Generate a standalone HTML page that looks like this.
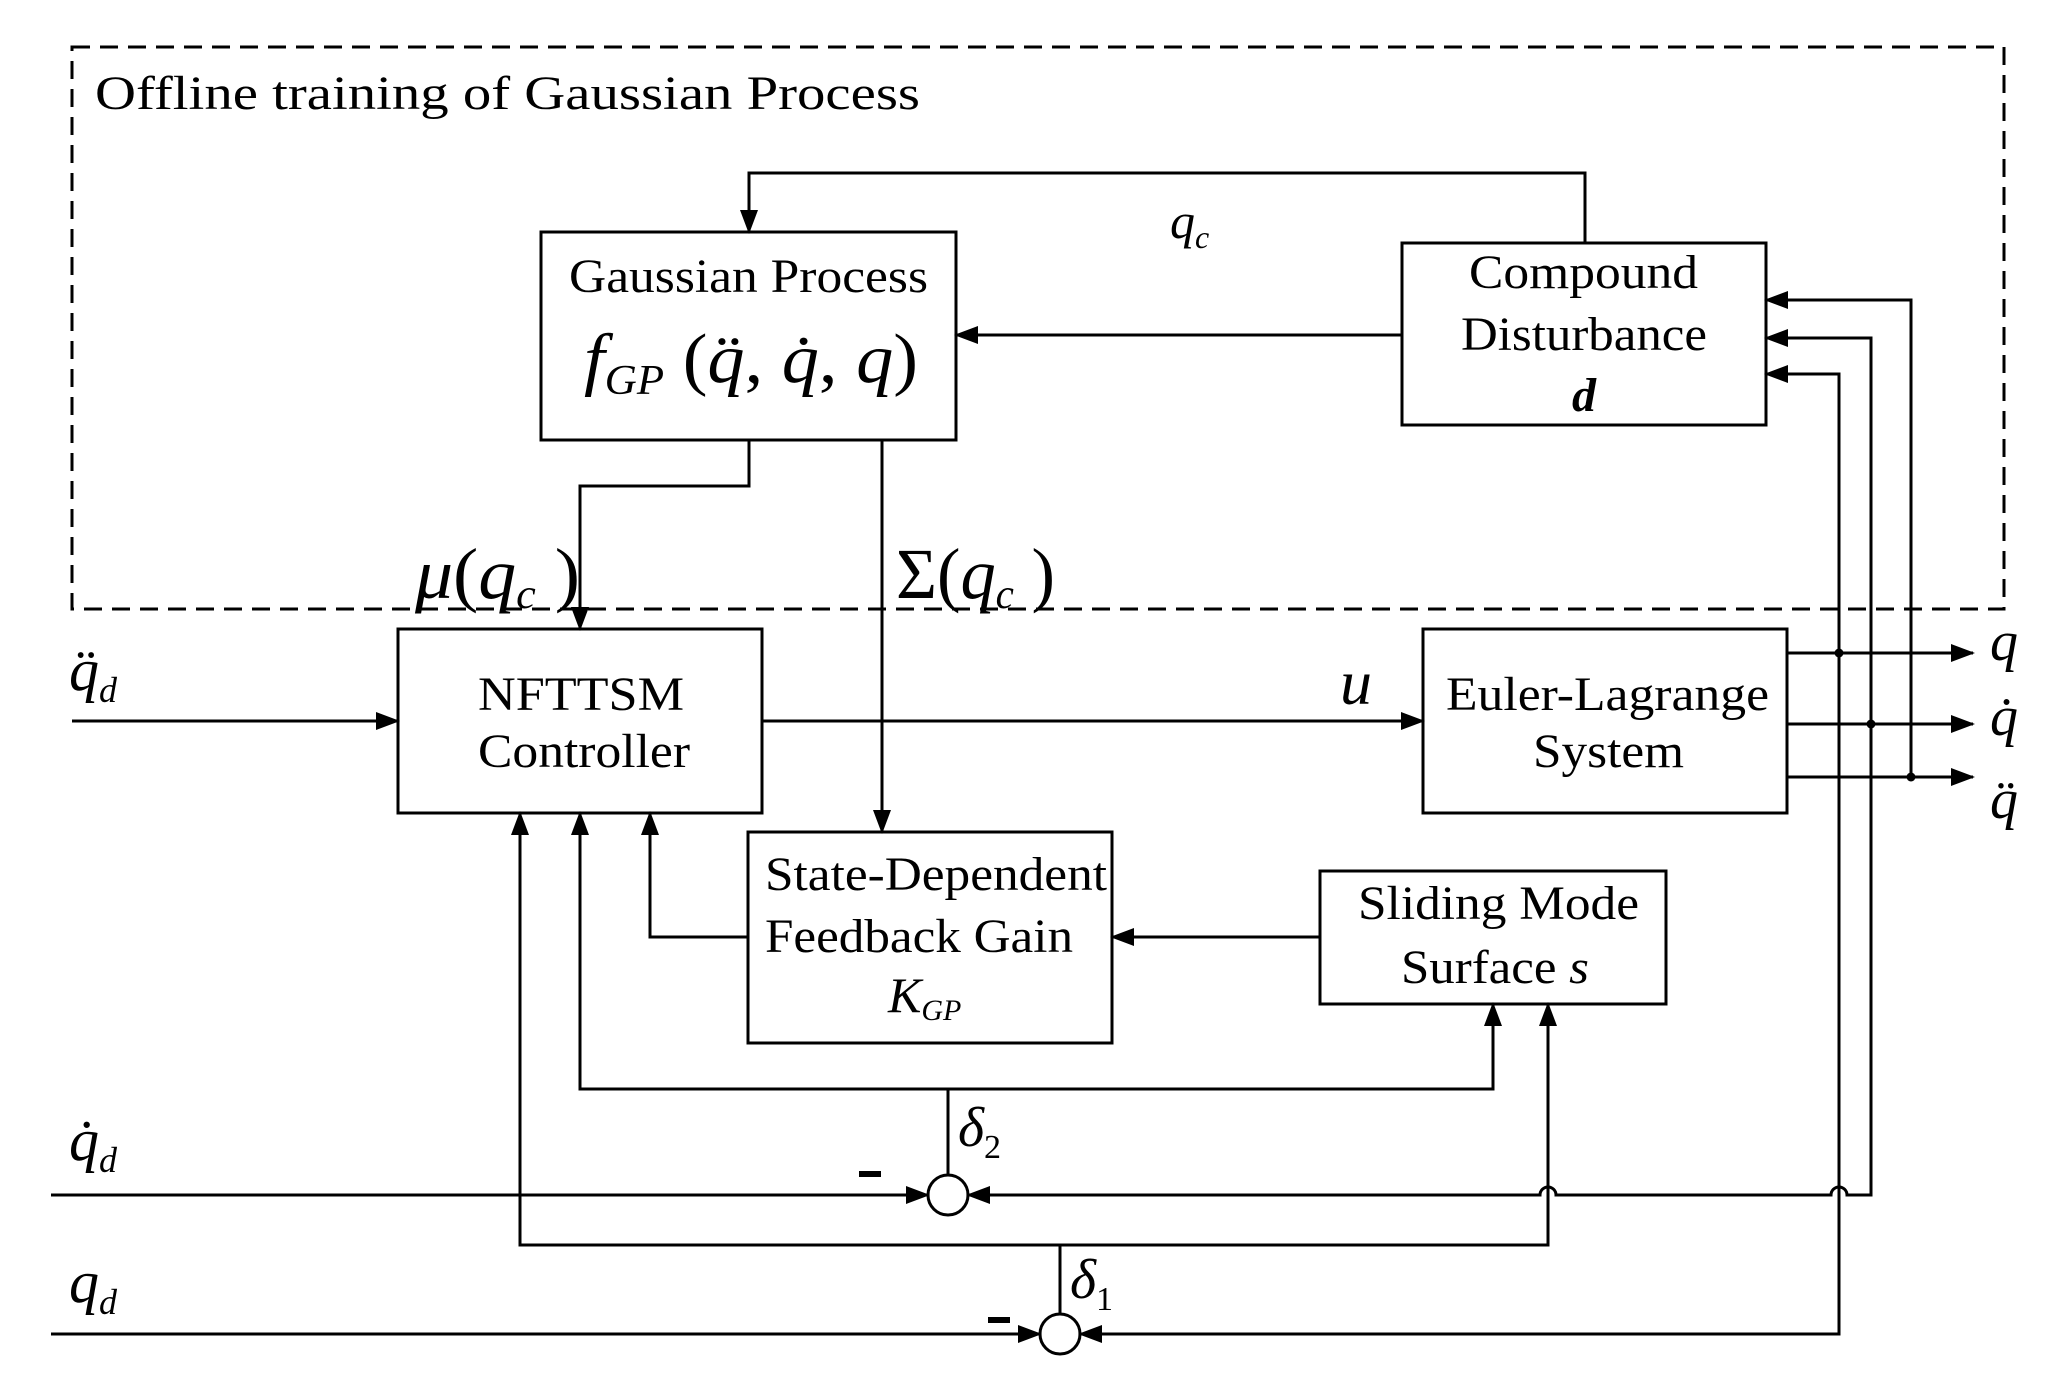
<!DOCTYPE html>
<html><head><meta charset="utf-8"><style>
html,body{margin:0;padding:0;background:#fff}
svg{display:block}
text{font-family:"Liberation Serif",serif;fill:#000}
</style></head><body>
<svg width="2065" height="1392" viewBox="0 0 2065 1392" xmlns="http://www.w3.org/2000/svg">
<defs>
<marker id="a" markerWidth="24" markerHeight="18" refX="22" refY="9" orient="auto" markerUnits="userSpaceOnUse">
<path d="M0,0 L24,9 L0,18 z" fill="#000"/></marker>
</defs>
<g fill="none" stroke="#000" stroke-width="3">
<rect x="72" y="47" width="1932" height="562" stroke-dasharray="18,10"/>
<rect x="541" y="232" width="415" height="208"/>
<rect x="1402" y="243" width="364" height="182"/>
<rect x="398" y="629" width="364" height="184"/>
<rect x="1423" y="629" width="364" height="184"/>
<rect x="748" y="832" width="364" height="211"/>
<rect x="1320" y="871" width="346" height="133"/>
<circle cx="948" cy="1195" r="20"/>
<circle cx="1060" cy="1334" r="20"/>
</g>
<g fill="none" stroke="#000" stroke-width="3" marker-end="url(#a)">
<path d="M1585,243 V173 H749 V232"/>
<path d="M1402,335 H956"/>
<path d="M749,440 V486 H580 V629"/>
<path d="M882,440 V832"/>
<path d="M72,721 H398"/>
<path d="M762,721 H1423"/>
<path d="M1787,653 H1973"/>
<path d="M1787,724 H1973"/>
<path d="M1787,777 H1973"/>
<path d="M1839,653 V374 H1766"/>
<path d="M1871,724 V338 H1766"/>
<path d="M1911,777 V300 H1766"/>
<path d="M1320,937 H1112"/>
<path d="M748,937 H650 V813"/>
<path d="M948,1175 V1089 H580 V813"/>
<path d="M948,1089 H1493 V1004"/>
<path d="M1060,1314 V1245 H520 V813"/>
<path d="M1060,1245 H1548 V1004"/>
<path d="M51,1195 H928"/>
<path d="M51,1334 H1040"/>
<path d="M1871,724 V1195 H1847 A8,8 0 0 0 1831,1195 H1556 A8,8 0 0 0 1540,1195 H968"/>
<path d="M1839,653 V1334 H1080"/>
</g>
<g fill="#000">
<circle cx="1839" cy="653" r="4.5"/>
<circle cx="1871" cy="724" r="4.5"/>
<circle cx="1911" cy="777" r="4.5"/>
<rect x="859" y="1171" width="22" height="6"/>
<rect x="988" y="1317" width="22" height="6"/>
</g>
<text x="95" y="109" font-size="48" textLength="825" lengthAdjust="spacingAndGlyphs">Offline training of Gaussian Process</text>
<text x="569" y="292" font-size="48" textLength="359" lengthAdjust="spacingAndGlyphs">Gaussian Process</text>
<text x="584" y="382" font-size="70" textLength="334" lengthAdjust="spacingAndGlyphs"><tspan font-style="italic">f</tspan><tspan font-style="italic" font-size="42" dy="12">GP</tspan><tspan dy="-12"> (</tspan><tspan font-style="italic">q̈</tspan>, <tspan font-style="italic">q̇</tspan>, <tspan font-style="italic">q</tspan>)</text>
<text x="1170" y="238" font-size="50" font-style="italic">q<tspan font-size="32" dy="10">c</tspan></text>
<text x="1469" y="288" font-size="48" textLength="229" lengthAdjust="spacingAndGlyphs">Compound</text>
<text x="1461" y="350" font-size="48" textLength="246" lengthAdjust="spacingAndGlyphs">Disturbance</text>
<text x="1584" y="411" font-size="48" text-anchor="middle" font-style="italic" font-weight="bold">d</text>
<text x="415" y="598" font-size="72" textLength="165" lengthAdjust="spacingAndGlyphs"><tspan font-style="italic">μ</tspan>(<tspan font-style="italic">q</tspan><tspan font-style="italic" font-size="42" dy="10">c</tspan><tspan dy="-10"> )</tspan></text>
<text x="896" y="598" font-size="72" textLength="159" lengthAdjust="spacingAndGlyphs">Σ(<tspan font-style="italic">q</tspan><tspan font-style="italic" font-size="42" dy="10">c</tspan><tspan dy="-10"> )</tspan></text>
<text x="478" y="710" font-size="48" textLength="206" lengthAdjust="spacingAndGlyphs">NFTTSM</text>
<text x="478" y="767" font-size="48" textLength="212" lengthAdjust="spacingAndGlyphs">Controller</text>
<text x="1446" y="710" font-size="48" textLength="323" lengthAdjust="spacingAndGlyphs">Euler-Lagrange</text>
<text x="1533" y="767" font-size="48" textLength="151" lengthAdjust="spacingAndGlyphs">System</text>
<text x="1340" y="704" font-size="64" font-style="italic">u</text>
<text x="1990" y="660" font-size="56" font-style="italic">q</text>
<text x="1990" y="735" font-size="56" font-style="italic">q̇</text>
<text x="1990" y="818" font-size="56" font-style="italic">q̈</text>
<text x="765" y="890" font-size="48" textLength="342" lengthAdjust="spacingAndGlyphs">State-Dependent</text>
<text x="765" y="952" font-size="48" textLength="308" lengthAdjust="spacingAndGlyphs">Feedback Gain</text>
<text x="888" y="1012" font-size="50" font-style="italic">K<tspan font-size="30" dy="8">GP</tspan></text>
<text x="1358" y="919" font-size="48" textLength="281" lengthAdjust="spacingAndGlyphs">Sliding Mode</text>
<text x="1401" y="983" font-size="48" textLength="188" lengthAdjust="spacingAndGlyphs">Surface <tspan font-style="italic">s</tspan></text>
<text x="69" y="690" font-size="60" font-style="italic">q̈<tspan font-size="36" dy="12">d</tspan></text>
<text x="69" y="1160" font-size="60" font-style="italic">q̇<tspan font-size="36" dy="12">d</tspan></text>
<text x="69" y="1302" font-size="60" font-style="italic">q<tspan font-size="36" dy="12">d</tspan></text>
<text x="958" y="1146" font-size="56" font-style="italic">δ<tspan font-style="normal" font-size="34" dy="12">2</tspan></text>
<text x="1070" y="1298" font-size="56" font-style="italic">δ<tspan font-style="normal" font-size="34" dy="12">1</tspan></text>
</svg>
</body></html>
